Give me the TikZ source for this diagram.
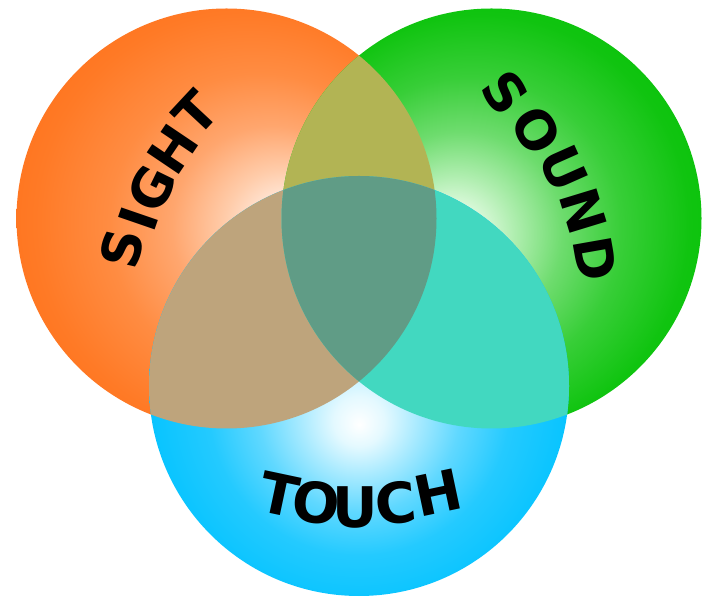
\documentclass[tikz,border=0pt]{standalone}
\usepackage{fontspec}
\newfontfamily\lblfont{DejaVu Sans}
\definecolor{olivec}{HTML}{B2B454}
\definecolor{tanc}{HTML}{BEA47C}
\definecolor{turqc}{HTML}{42D8C0}
\definecolor{midc}{HTML}{609C86}
\pgfdeclareradialshading{orangesh}{\pgfpoint{8.5bp}{-1.5bp}}{%
 color(0bp)=(white);
 color(3bp)=({rgb,255:red,255;green,238;blue,228});
 color(7bp)=({rgb,255:red,255;green,204;blue,170});
 color(12bp)=({rgb,255:red,255;green,166;blue,110});
 color(18bp)=({rgb,255:red,255;green,140;blue,66});
 color(25bp)=({rgb,255:red,255;green,122;blue,38});
 color(34bp)=({rgb,255:red,255;green,106;blue,16})}
\pgfdeclareradialshading{greensh}{\pgfpoint{-5.5bp}{-2.5bp}}{%
 color(0bp)=(white);
 color(3bp)=({rgb,255:red,232;green,252;blue,232});
 color(7bp)=({rgb,255:red,176;green,238;blue,176});
 color(12bp)=({rgb,255:red,110;green,220;blue,110});
 color(18bp)=({rgb,255:red,56;green,206;blue,56});
 color(25bp)=({rgb,255:red,16;green,196;blue,16});
 color(34bp)=({rgb,255:red,0;green,192;blue,0})}
\pgfdeclareradialshading{cyansh}{\pgfpoint{0bp}{-4.6bp}}{%
 color(0bp)=(white);
 color(3bp)=({rgb,255:red,228;green,249;blue,255});
 color(7bp)=({rgb,255:red,168;green,234;blue,255});
 color(12bp)=({rgb,255:red,96;green,216;blue,255});
 color(18bp)=({rgb,255:red,36;green,202;blue,255});
 color(25bp)=({rgb,255:red,8;green,196;blue,255});
 color(34bp)=({rgb,255:red,0;green,192;blue,255})}
\tikzset{
 ltr/.style={font=\lblfont\bfseries\fontsize{53}{53}\selectfont, inner sep=0pt, anchor=center, text=black},
 ltrb/.style={font=\lblfont\bfseries\fontsize{56}{56}\selectfont, inner sep=0pt, anchor=center, text=black}
}
\begin{document}
\begin{tikzpicture}[x=1pt,y=1pt]
\useasboundingbox (0,0) rectangle (703,599);
\fill[white] (0,0) rectangle (703,599);
\coordinate (co) at (226.5,380.5);
\coordinate (cg) at (491.5,380.5);
\coordinate (cc) at (359,213);
\shade[shading=orangesh] (co) circle[radius=210pt];
\shade[shading=greensh] (cg) circle[radius=210pt];
\shade[shading=cyansh] (cc) circle[radius=210pt];
\begin{scope}
 \clip (co) circle[radius=210pt];
 \fill[olivec] (cg) circle[radius=210pt];
 \fill[tanc] (cc) circle[radius=210pt];
\end{scope}
\begin{scope}
 \clip (cg) circle[radius=210pt];
 \fill[turqc] (cc) circle[radius=210pt];
\end{scope}
\begin{scope}
 \clip (co) circle[radius=210pt];
 \clip (cg) circle[radius=210pt];
 \fill[midc] (cc) circle[radius=210pt];
\end{scope}
% SIGHT
\node[ltr, rotate=77] (s1) at (122,350) {S};
\node[ltr, rotate=71] (s2) at (138,380) {I};
\node[ltr, rotate=64] (s3) at (152,411) {G};
\node[ltr, rotate=56] (s4) at (173,450) {H};
\node[ltr, rotate=47] (s5) at (196,486) {T};
% SOUND
\node[ltr, rotate=-54] (n1) at (505,506) {S};
\node[ltr, rotate=-60] (n2) at (536,469) {O};
\node[ltr, rotate=-66] (n3) at (564,431) {U};
\node[ltr, rotate=-73] (n4) at (583,388) {N};
\node[ltr, rotate=-80] (n5) at (595,340) {D};
% TOUCH
\node[ltrb, rotate=-12] (t1) at (279,104) {T};
\node[ltrb, rotate=-6] (t2) at (316,96) {O};
\node[ltrb, rotate=0] (t3) at (355,92) {U};
\node[ltrb, rotate=6] (t4) at (396,96) {C};
\node[ltrb, rotate=12] (t5) at (438,106) {H};
\end{tikzpicture}
\end{document}
